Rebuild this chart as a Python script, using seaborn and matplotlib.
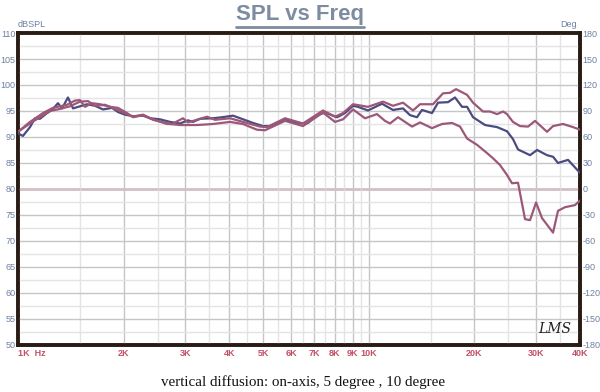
import numpy as np
import pandas as pd
import matplotlib
matplotlib.use("Agg")
import matplotlib.pyplot as plt
from matplotlib.lines import Line2D
import seaborn as sns

# --- DATA ---
on_axis_hz = [1000, 1033, 1082, 1118, 1155, 1210, 1250, 1300, 1335, 1388, 1435, 1502, 1573, 1658,
              1747, 1854, 1928, 2018, 2127, 2272, 2378, 2540, 2713, 2896, 3052, 3154, 3303, 3596,
              3815, 4102, 4677, 4994, 5229, 5474, 5770, 6080, 6367, 6710, 7120, 7503, 8119, 8554,
              9016, 9316, 9947, 10904, 11722, 12516, 13103, 13721, 14180, 15140, 15750, 16818,
              17610, 18440, 19060, 19820, 21450, 23210, 24770, 25760, 26630, 28810, 30180, 32210,
              33510, 34620, 36970, 40000]
on_axis_db = [90.7, 90.2, 91.9, 93.6, 93.5, 94.6, 95.2, 96.5, 95.5, 97.6, 95.5, 95.9, 96.3, 96.0,
              95.3, 95.6, 94.8, 94.3, 94.0, 94.1, 93.6, 93.4, 92.9, 92.6, 93.2, 92.9, 93.5, 93.6,
              93.8, 94.1, 92.7, 92.1, 92.1, 92.7, 93.4, 92.9, 92.6, 92.7, 94.2, 94.7, 93.8, 94.6,
              96.0, 95.8, 95.1, 96.4, 95.2, 95.5, 94.2, 93.8, 95.2, 94.6, 96.6, 96.7,
              97.6, 95.8, 95.8, 93.8, 92.3, 91.9, 91.1, 89.6, 87.6, 86.5, 87.5, 86.5,
              86.2, 85.0, 85.6, 83.1]

deg5_hz = [1000, 1082, 1178, 1258, 1379, 1454, 1502, 1552, 1625, 1713, 1829, 1928, 2045, 2127,
           2272, 2426, 2660, 2748, 2953, 3052, 3458, 3644, 4021, 4379, 4897, 5127, 5770, 6493,
           7404, 8010, 8443, 9016, 9947, 10977, 11722, 12516, 13366, 13996, 15240, 16275, 17040,
           17733, 19060, 19820, 21160, 22160, 23210, 24140, 24770, 25760, 26980, 28440, 29770,
           32210, 33510, 35780, 38200, 40000]
deg5_db = [91.0, 92.9, 94.6, 95.6, 96.2, 97.0, 97.1, 95.8, 96.5, 96.3, 95.8, 95.6, 94.6, 93.8,
           94.2, 93.4, 92.5, 92.5, 93.6, 92.8, 93.9, 93.3, 93.6, 92.9, 92.0, 91.9, 93.6, 92.6,
           95.1, 93.9, 94.6, 96.3, 95.8, 96.8, 96.0, 96.6, 95.1, 96.3, 96.3, 98.4, 98.5,
           99.2, 98.1, 96.6, 94.9, 94.9, 94.4, 94.9, 94.4, 92.9, 92.1, 92.0, 93.1,
           91.0, 92.1, 92.5, 91.9, 91.4]

deg10_hz = [1000, 1082, 1155, 1234, 1317, 1406, 1502, 1583, 1658, 1770, 1890, 2018, 2127, 2272,
            2426, 2713, 2896, 3239, 3596, 4021, 4379, 4800, 5060, 5770, 6493, 7404, 8010, 8443,
            9016, 9755, 10553, 11123, 11492, 12113, 12684, 13280, 13996, 15140, 16170, 17270,
            18200, 19060, 20340, 21730, 22600, 23660, 24770, 25600, 26630, 27880, 28810, 29974,
            31170, 33510, 34620, 36250, 38700, 40000]
deg10_db = [91.0, 92.6, 93.8, 95.0, 95.4, 95.9, 96.8, 96.9, 96.0, 96.2, 95.4, 94.6, 93.9, 94.3,
            93.3, 92.5, 92.3, 92.3, 92.5, 92.9, 92.5, 91.4, 91.3, 93.1, 92.1, 94.7, 92.9, 93.4,
            95.3, 93.6, 94.4, 93.1, 92.6, 93.8, 92.9, 92.0, 92.8, 91.7, 92.5, 92.7,
            92.0, 89.7, 88.5, 86.9, 85.9, 84.6, 82.7, 81.1, 81.2, 74.2, 74.0, 77.4,
            74.4, 71.6, 75.8, 76.5, 76.9, 77.8]

freq_major = [1000, 2000, 3000, 4000, 5000, 6000, 7000, 8000, 9000, 10000, 20000, 30000, 40000]
freq_labels = ["1K  Hz", "2K", "3K", "4K", "5K", "6K", "7K", "8K", "9K", "10K", "20K", "30K", "40K"]
freq_minor = [1500, 2500, 3500, 4500, 5500, 6500, 7500, 8500, 9500, 15000, 25000, 35000]
spl_ticks = list(range(50, 111, 5))
deg_ticks = list(range(-180, 181, 30))
phase_zero = 0

TITLE = "SPL vs Freq"
CAPTION = "vertical diffusion: on-axis, 5 degree , 10 degree"

NAVY = "#4b4b80"
MAUVE = "#9c5878"
AXIS_BLUE = "#6d80a0"
TICK_RED = "#c25068"

sns.set_style("white")
plt.rcParams["font.family"] = ["Liberation Sans", "DejaVu Sans"]
plt.rcParams["axes.unicode_minus"] = False

fig = plt.figure(figsize=(6.0, 3.92), dpi=100)
ax = fig.add_axes([0.03, 0.12, 0.9367, 0.7958])

curves = pd.concat([
    pd.DataFrame({"freq": on_axis_hz, "spl": on_axis_db, "curve": "on-axis"}),
    pd.DataFrame({"freq": deg5_hz, "spl": deg5_db, "curve": "5 degree"}),
    pd.DataFrame({"freq": deg10_hz, "spl": deg10_db, "curve": "10 degree"}),
])

ax.set_xscale("log")
sns.lineplot(data=curves, x="freq", y="spl", hue="curve", ax=ax, estimator=None,
             palette={"on-axis": NAVY, "5 degree": MAUVE, "10 degree": MAUVE},
             linewidth=1.6, legend=False, zorder=4)

ax.set_xlim(1000, 40000)
ax.set_ylim(50, 110)
ax.set_xticks(freq_major)
ax.set_xticklabels(freq_labels)
ax.set_xticks(freq_minor, minor=True)
ax.set_xticklabels([], minor=True)
ax.set_yticks(spl_ticks)
ax.set_yticks(np.arange(52.5, 110, 5), minor=True)
ax.set_xlabel("")
ax.set_ylabel("")

ax.grid(which="major", color="#c6c6c6", lw=1.0)
ax.grid(which="minor", color="#e4e4e4", lw=1.0)
ax.set_axisbelow(True)
ax.tick_params(which="both", length=0)
ax.tick_params(axis="x", colors=TICK_RED, labelsize=6.5, pad=3)
ax.tick_params(axis="y", colors=AXIS_BLUE, labelsize=6.5, pad=2)
for lab in ax.get_xticklabels():
    lab.set_fontweight("bold")
ax.get_xticklabels()[0].set_horizontalalignment("left")

ax2 = ax.twinx()
ax2.set_ylim(-180, 180)
ax2.set_yticks(deg_ticks)
ax2.tick_params(length=0, colors=AXIS_BLUE, labelsize=6.5, pad=2)
ax2.axhline(phase_zero, color="#dcbcc8", lw=2, zorder=3)
ax2.set_zorder(0)
ax.set_zorder(1)
ax.patch.set_visible(False)

for a in (ax, ax2):
    for s in a.spines.values():
        s.set_color("#2a1c14")
        s.set_linewidth(2.6)

ax.text(0.0, 1.012, "dBSPL", transform=ax.transAxes, fontsize=6.5, color=AXIS_BLUE, va="bottom", ha="left")
ax.text(0.995, 1.012, "Deg", transform=ax.transAxes, fontsize=6.5, color=AXIS_BLUE, va="bottom", ha="right")
ax.text(0.985, 0.03, "LMS", transform=ax.transAxes, fontsize=10, style="italic",
        family="DejaVu Serif", color="#222222", ha="right", va="bottom", zorder=6)

title = fig.text(0.5, 0.962, TITLE, ha="center", va="center", fontsize=16, fontweight="bold",
                 color="#7d8ca0")
fig.text(0.505, 0.025, CAPTION, ha="center", va="center", fontsize=10.8,
         family=["Liberation Serif", "DejaVu Serif"], color="#111111")

# underline the title
fig.canvas.draw()
bb = title.get_window_extent().transformed(fig.transFigure.inverted())
fig.add_artist(Line2D([bb.x0, bb.x1], [bb.y0 - 0.003, bb.y0 - 0.003], color="#7d8ca0", lw=2))

fig.savefig("out.png", dpi=100)
